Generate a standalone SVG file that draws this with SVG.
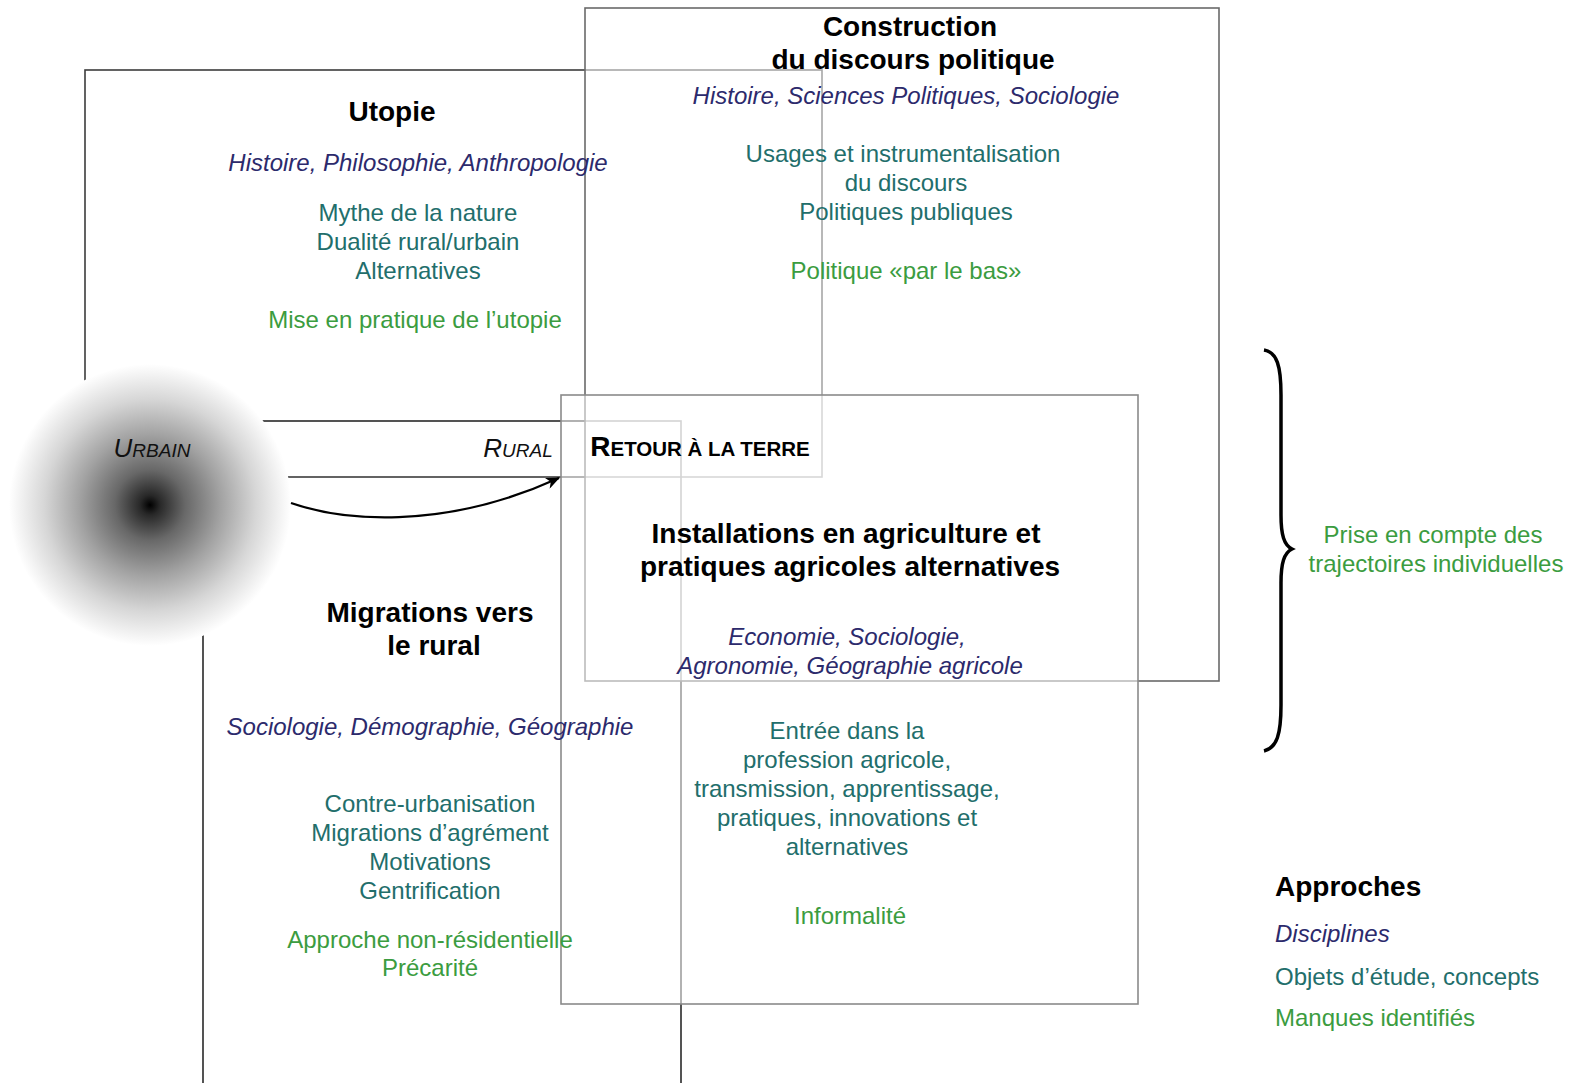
<svg xmlns="http://www.w3.org/2000/svg" width="1573" height="1083" viewBox="0 0 1573 1083">
<style>
text{font-family:"Liberation Sans",Arial,sans-serif;text-anchor:middle}
.t{font-size:28px;font-weight:bold;fill:#000}
.d{font-size:24px;font-style:italic;fill:#2c2a6c}
.o{font-size:24px;fill:#226e6b}
.m{font-size:24px;fill:#3b9c40}
.frame{stroke-width:1.6}
</style>
<defs>
<radialGradient id="urb" cx="0.5" cy="0.5" r="0.5">
<stop offset="0" stop-color="#000"/>
<stop offset="0.07" stop-color="#282828"/>
<stop offset="0.25" stop-color="#686868"/>
<stop offset="0.5" stop-color="#a2a2a2"/>
<stop offset="0.75" stop-color="#d6d6d6"/>
<stop offset="1" stop-color="#fff"/>
</radialGradient>
<marker id="ah" markerWidth="14" markerHeight="12" refX="13" refY="6" orient="auto" markerUnits="userSpaceOnUse">
<path d="M0,0 L14,6 L0,12 L4,6 Z" fill="#000"/>
</marker>
</defs>
<rect width="1573" height="1083" fill="#fff"/>
<g id="frames">
<rect id="frame-utopie" class="frame" x="85" y="70" width="737" height="407" fill="none" stroke="#3c3c3c"/>
<rect id="frame-migrations" class="frame" x="203" y="421" width="478" height="700" fill="none" stroke="#2a2a2a"/>
<rect id="frame-construction" class="frame" x="585" y="8" width="634" height="673" fill="#fff" fill-opacity="0.55" stroke="#6a6a6a"/>
<rect id="frame-retour" class="frame" x="561" y="395" width="577" height="609" fill="#fff" fill-opacity="0.55" stroke="#8a8a8a"/>
</g>
<g id="urbain">
<circle cx="150" cy="505" r="141" fill="url(#urb)"/>
<text x="152" y="457" style="font-size:26px;font-style:italic" fill="#111">U<tspan style="font-size:19px">RBAIN</tspan></text>
</g>
<g id="rural">
<text x="518" y="457" style="font-size:26px;font-style:italic" fill="#111">R<tspan style="font-size:19px">URAL</tspan></text>
</g>
<g id="connectors">
<path d="M291,503 C340,520 440,532 559,478" fill="none" stroke="#000" stroke-width="2.2" marker-end="url(#ah)"/>
</g>
<g id="node-utopie">
<text class="t" x="392" y="121">Utopie</text>
<text class="d" x="418" y="171">Histoire, Philosophie, Anthropologie</text>
<text class="o" x="418" y="221">Mythe de la nature</text>
<text class="o" x="418" y="250">Dualité rural/urbain</text>
<text class="o" x="418" y="279">Alternatives</text>
<text class="m" x="415" y="328">Mise en pratique de l’utopie</text>
</g>
<g id="node-construction">
<text class="t" x="910" y="36">Construction</text>
<text class="t" x="913" y="69">du discours politique</text>
<text class="d" x="906" y="104">Histoire, Sciences Politiques, Sociologie</text>
<text class="o" x="903" y="162">Usages et instrumentalisation</text>
<text class="o" x="906" y="191">du discours</text>
<text class="o" x="906" y="220">Politiques publiques</text>
<text class="m" x="906" y="279">Politique «par le bas»</text>
</g>
<g id="node-retour">
<text x="700" y="456" style="font-size:28px;font-weight:bold" fill="#000">R<tspan style="font-size:20.5px">ETOUR À LA TERRE</tspan></text>
<text class="t" x="846" y="543">Installations en agriculture et</text>
<text class="t" x="850" y="576">pratiques agricoles alternatives</text>
<text class="d" x="847" y="645">Economie, Sociologie,</text>
<text class="d" x="850" y="674">Agronomie, Géographie agricole</text>
<text class="o" x="847" y="739">Entrée dans la</text>
<text class="o" x="847" y="768">profession agricole,</text>
<text class="o" x="847" y="797">transmission, apprentissage,</text>
<text class="o" x="847" y="826">pratiques, innovations et</text>
<text class="o" x="847" y="855">alternatives</text>
<text class="m" x="850" y="924">Informalité</text>
</g>
<g id="node-migrations">
<text class="t" x="430" y="622">Migrations vers</text>
<text class="t" x="434" y="655">le rural</text>
<text class="d" x="430" y="735">Sociologie, Démographie, Géographie</text>
<text class="o" x="430" y="812">Contre-urbanisation</text>
<text class="o" x="430" y="841">Migrations d’agrément</text>
<text class="o" x="430" y="870">Motivations</text>
<text class="o" x="430" y="899">Gentrification</text>
<text class="m" x="430" y="948">Approche non-résidentielle</text>
<text class="m" x="430" y="976">Précarité</text>
</g>
<g id="brace">
<path d="M1264,350 C1277,352 1281,366 1281,395 L1281,515 C1281,535 1284,545 1292,549 C1284,553 1281,563 1281,583 L1281,705 C1281,734 1277,748 1264,751" fill="none" stroke="#000" stroke-width="3.5"/>
<text class="m" x="1433" y="543">Prise en compte des</text>
<text class="m" x="1436" y="572">trajectoires individuelles</text>
</g>
<g id="legend">
<text class="t" x="1275" y="896" style="text-anchor:start">Approches</text>
<text class="d" x="1275" y="942" style="text-anchor:start">Disciplines</text>
<text class="o" x="1275" y="985" style="text-anchor:start">Objets d’étude, concepts</text>
<text class="m" x="1275" y="1026" style="text-anchor:start">Manques identifiés</text>
</g>
</svg>
